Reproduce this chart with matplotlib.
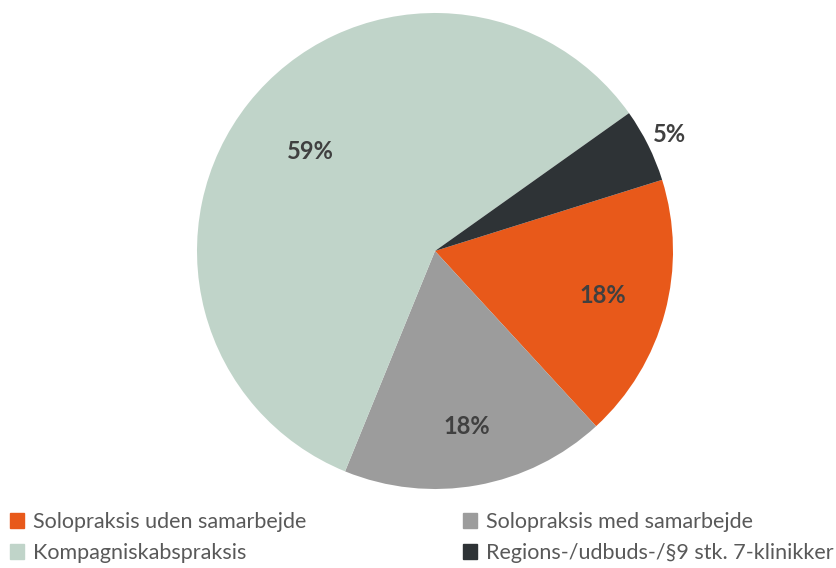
import numpy as np
import matplotlib
matplotlib.use('Agg')
import matplotlib.pyplot as plt
from matplotlib.patches import Patch

plt.rcParams['font.family'] = ['Lato', 'DejaVu Sans']

# data
labels = ['Solopraksis uden samarbejde', 'Solopraksis med samarbejde',
          'Kompagniskabspraksis', 'Regions-/udbuds-/§9 stk. 7-klinikker']
values = [18, 18, 59, 5]
colors = ['#E8591A', '#9C9C9C', '#C0D4C9', '#2E3336']
# radial position of each percent label (fraction of radius)
label_dist = [0.73, 0.75, 0.67, 1.1]

fig = plt.figure(figsize=(8.37, 5.68), dpi=100)
ax = fig.add_axes([197 / 837, (568 - 489) / 568, 476 / 837, 476 / 568])

wedges, _ = ax.pie(values, colors=colors, startangle=17.4, counterclock=False,
                   radius=1, wedgeprops=dict(linewidth=0))
ax.set_xlim(-1, 1)
ax.set_ylim(-1, 1)
ax.set_aspect('equal')
ax.axis('off')

total = sum(values)
for w, v, d in zip(wedges, values, label_dist):
    ang = np.deg2rad((w.theta1 + w.theta2) / 2)
    ax.text(d * np.cos(ang), d * np.sin(ang), f'{round(100 * v / total)}%',
            ha='center', va='center', fontsize=17, fontweight='bold', color='#404040')

# legend, two columns
txt = '#595959'
col1 = [Patch(color=colors[0]), Patch(color=colors[2])]
col2 = [Patch(color=colors[1]), Patch(color=colors[3])]
kw = dict(frameon=False, fontsize=15.5, handlelength=0.65, handleheight=0.65,
          handletextpad=0.4, labelspacing=0.5, labelcolor=txt, loc='lower left',
          borderaxespad=0, borderpad=0)
leg1 = fig.legend(col1, [labels[0], labels[2]], bbox_to_anchor=(10 / 837, 5 / 568), **kw)
leg2 = fig.legend(col2, [labels[1], labels[3]], bbox_to_anchor=(463 / 837, 5 / 568), **kw)

fig.savefig('out.png', dpi=100)
